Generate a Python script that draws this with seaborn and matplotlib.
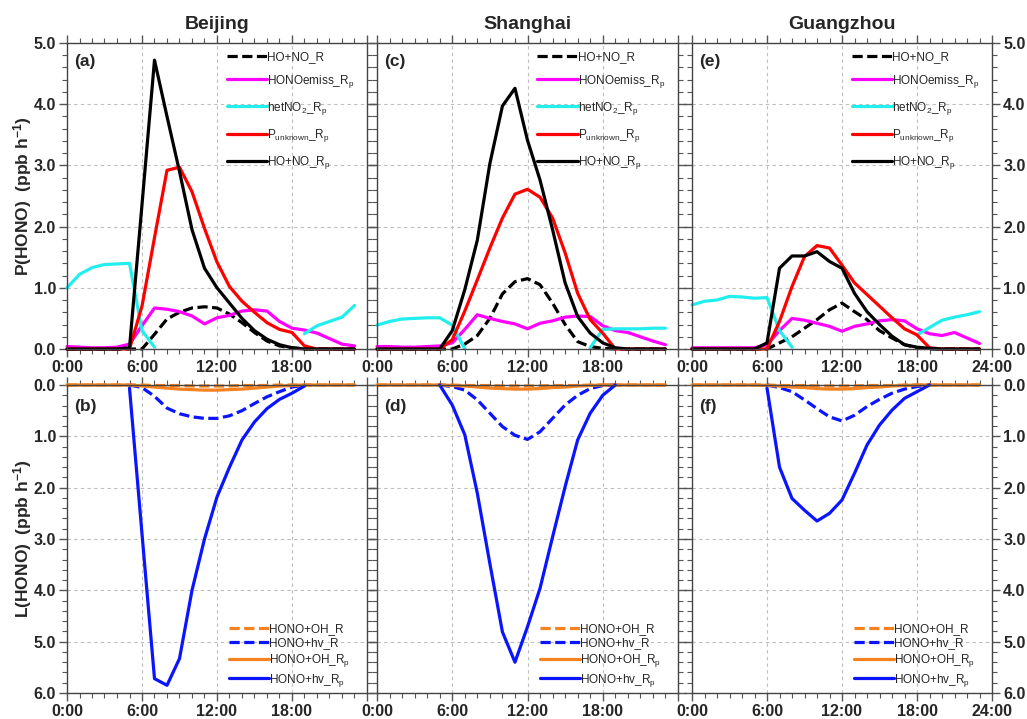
import numpy as np
import pandas as pd
import matplotlib
matplotlib.use("Agg")
import matplotlib.pyplot as plt
import seaborn as sns

nan = np.nan

# ─────────────────────────────────────────────
# DATOS (hora 0..23)
# ─────────────────────────────────────────────
HORAS = list(range(24))
CIUDADES = ["Beijing", "Shanghai", "Guangzhou"]
LETRAS_SUP = ["(a)", "(c)", "(e)"]
LETRAS_INF = ["(b)", "(d)", "(f)"]

ETIQ_SUP = ["HO+NO_R", "HONOemiss_R$_p$", "hetNO$_2$_R$_p$",
            "P$_{unknown}$_R$_p$", "HO+NO_R$_p$"]
ETIQ_INF = ["HONO+OH_R", "HONO+hv_R", "HONO+OH_R$_p$", "HONO+hv_R$_p$"]

# --- Beijing ---
bj_ohno_R   = [0, 0, 0, 0, 0, 0, 0, 0.24, 0.49, 0.60, 0.67, 0.69, 0.67, 0.57,
               0.43, 0.27, 0.13, 0.05, 0.02, 0, 0, 0, 0, 0]
bj_emiss    = [0.04, 0.03, 0.02, 0.02, 0.03, 0.08, 0.38, 0.67, 0.65, 0.61, 0.54,
               0.41, 0.51, 0.55, 0.62, 0.64, 0.62, 0.45, 0.34, 0.31, 0.26, 0.17,
               0.08, 0.05]
bj_het      = [1.00, 1.22, 1.33, 1.38, 1.39, 1.40, 0.30, 0.03, nan, nan, nan,
               nan, nan, nan, nan, nan, nan, nan, nan, 0.25, 0.38, 0.45, 0.52,
               0.71]
bj_unknown  = [0, 0, 0, 0, 0, 0, 0.70, 1.82, 2.92, 2.97, 2.57, 1.97, 1.42, 1.02,
               0.78, 0.60, 0.43, 0.32, 0.27, 0.05, 0, 0, 0, 0]
bj_ohno_Rp  = [0, 0, 0, 0, 0, 0.02, 2.36, 4.72, 3.80, 2.90, 1.95, 1.32, 1.00,
               0.75, 0.50, 0.30, 0.16, 0.07, 0.02, 0, 0, 0, 0, 0]

bj_oh_R     = [0, 0, 0, 0, 0, 0, 0, 0.01, 0.01, 0.01, 0.02, 0.02, 0.02, 0.02,
               0.01, 0.01, 0.01, 0, 0, 0, 0, 0, 0, 0]
bj_hv_R     = [nan, nan, nan, nan, nan, 0, 0.05, 0.22, 0.45, 0.56, 0.62, 0.65,
               0.65, 0.60, 0.50, 0.36, 0.23, 0.13, 0.04, 0, nan, nan, nan, nan]
bj_oh_Rp    = [0, 0, 0, 0, 0, 0, 0.02, 0.04, 0.06, 0.08, 0.09, 0.10, 0.10, 0.09,
               0.08, 0.06, 0.04, 0.02, 0.01, 0, 0, 0, 0, 0]
bj_hv_Rp    = [nan, nan, nan, nan, nan, 0.06, 2.90, 5.72, 5.85, 5.33, 4.00, 3.00,
               2.18, 1.60, 1.07, 0.72, 0.46, 0.28, 0.16, 0.02, nan, nan, nan, nan]

# --- Shanghai ---
sh_ohno_R   = [0, 0, 0, 0, 0, 0, 0, 0.08, 0.22, 0.50, 0.90, 1.10, 1.15, 1.05,
               0.75, 0.40, 0.12, 0.04, 0.01, 0, 0, 0, 0, 0]
sh_emiss    = [0.04, 0.04, 0.03, 0.03, 0.04, 0.05, 0.10, 0.32, 0.56, 0.50, 0.45,
               0.41, 0.33, 0.42, 0.46, 0.52, 0.54, 0.53, 0.38, 0.30, 0.27, 0.20,
               0.13, 0.07]
sh_het      = [0.39, 0.45, 0.49, 0.50, 0.51, 0.51, 0.39, 0.0, nan, nan, nan,
               nan, nan, nan, nan, nan, nan, 0.02, 0.32, 0.33, 0.33, 0.33, 0.34,
               0.34]
sh_unknown  = [0, 0, 0, 0, 0, 0, 0.15, 0.62, 1.13, 1.65, 2.14, 2.53, 2.61, 2.48,
               2.14, 1.57, 0.91, 0.48, 0.26, 0, 0, 0, 0, 0]
sh_ohno_Rp  = [0, 0, 0, 0, 0, 0, 0.30, 0.97, 1.78, 3.03, 3.97, 4.26, 3.41, 2.76,
               1.95, 1.08, 0.53, 0.26, 0.10, 0.02, 0, 0, 0, 0]

sh_oh_R     = [0, 0, 0, 0, 0, 0, 0, 0.01, 0.01, 0.01, 0.02, 0.02, 0.02, 0.02,
               0.01, 0.01, 0.01, 0, 0, 0, 0, 0, 0, 0]
sh_hv_R     = [nan, nan, nan, nan, nan, 0, 0.03, 0.10, 0.29, 0.55, 0.81, 0.98,
               1.06, 0.91, 0.65, 0.39, 0.20, 0.07, 0.01, 0, nan, nan, nan, nan]
sh_oh_Rp    = [0, 0, 0, 0, 0, 0, 0.01, 0.02, 0.04, 0.06, 0.07, 0.08, 0.08, 0.07,
               0.05, 0.04, 0.02, 0.01, 0, 0, 0, 0, 0, 0]
sh_hv_Rp    = [nan, nan, nan, nan, nan, 0, 0.39, 0.97, 2.11, 3.48, 4.81, 5.40,
               4.71, 3.96, 2.96, 1.98, 1.07, 0.55, 0.20, 0, nan, nan, nan, nan]

# --- Guangzhou ---
gz_ohno_R   = [0, 0, 0, 0, 0, 0, 0, 0.10, 0.20, 0.34, 0.48, 0.64, 0.75, 0.61,
               0.48, 0.30, 0.18, 0.07, 0.02, 0, 0, 0, 0, 0]
gz_emiss    = [0.02, 0.02, 0.02, 0.02, 0.02, 0.02, 0.07, 0.30, 0.50, 0.47, 0.42,
               0.37, 0.29, 0.37, 0.41, 0.46, 0.48, 0.46, 0.33, 0.25, 0.22, 0.27,
               0.18, 0.09]
gz_het      = [0.72, 0.78, 0.80, 0.86, 0.85, 0.83, 0.84, 0.30, 0.03, nan, nan,
               nan, nan, nan, nan, nan, nan, nan, 0.23, 0.35, 0.47, 0.52, 0.56,
               0.61]
gz_unknown  = [0, 0, 0, 0, 0, 0, 0, 0.45, 1.02, 1.51, 1.69, 1.65, 1.37, 1.08,
               0.89, 0.70, 0.51, 0.33, 0.23, 0.02, 0, 0, 0, 0]
gz_ohno_Rp  = [0, 0, 0, 0, 0, 0, 0.10, 1.32, 1.52, 1.52, 1.59, 1.43, 1.32, 0.91,
               0.61, 0.40, 0.21, 0.07, 0.03, 0.01, 0, 0, 0, 0]

gz_oh_R     = [0, 0, 0, 0, 0, 0, 0, 0.01, 0.01, 0.01, 0.02, 0.02, 0.02, 0.02,
               0.01, 0.01, 0.01, 0, 0, 0, 0, 0, 0, 0]
gz_hv_R     = [nan, nan, nan, nan, nan, nan, 0, 0.05, 0.13, 0.29, 0.46, 0.62,
               0.70, 0.59, 0.42, 0.28, 0.16, 0.08, 0.03, 0, nan, nan, nan, nan]
gz_oh_Rp    = [0, 0, 0, 0, 0, 0, 0.01, 0.02, 0.04, 0.05, 0.07, 0.08, 0.08, 0.07,
               0.05, 0.04, 0.02, 0.01, 0, 0, 0, 0, 0, 0]
gz_hv_Rp    = [nan, nan, nan, nan, nan, nan, 0.06, 1.60, 2.21, 2.44, 2.65, 2.50,
               2.24, 1.72, 1.17, 0.78, 0.49, 0.26, 0.13, 0, nan, nan, nan, nan]

SUP = [[bj_ohno_R, bj_emiss, bj_het, bj_unknown, bj_ohno_Rp],
       [sh_ohno_R, sh_emiss, sh_het, sh_unknown, sh_ohno_Rp],
       [gz_ohno_R, gz_emiss, gz_het, gz_unknown, gz_ohno_Rp]]
INF = [[bj_oh_R, bj_hv_R, bj_oh_Rp, bj_hv_Rp],
       [sh_oh_R, sh_hv_R, sh_oh_Rp, sh_hv_Rp],
       [gz_oh_R, gz_hv_R, gz_oh_Rp, gz_hv_Rp]]

# ─────────────────────────────────────────────
# ESTILO
# ─────────────────────────────────────────────
COL_SUP = ["black", "#ff00ff", "#22eeee", "#ff0000", "black"]
LS_SUP = [(0, (3.2, 1.4)), "-", "-", "-", "-"]
COL_INF = ["#f5821f", "#0a14ff", "#f5821f", "#0a14ff"]
LS_INF = [(0, (3.2, 1.4)), (0, (3.2, 1.4)), "-", "-"]
LW = 2.3

sns.set_theme(style="ticks")
plt.rcParams["font.family"] = ["Liberation Sans", "DejaVu Sans"]
plt.rcParams["mathtext.default"] = "regular"
plt.rcParams["axes.edgecolor"] = "#444444"
plt.rcParams["axes.linewidth"] = 1.0


def tramos(y):
    """Divide la serie en tramos contiguos sin NaN."""
    y = np.asarray(y, dtype=float)
    ok = ~np.isnan(y)
    out, ini = [], None
    for i, v in enumerate(ok):
        if v and ini is None:
            ini = i
        if not v and ini is not None:
            out.append((ini, i))
            ini = None
    if ini is not None:
        out.append((ini, len(y)))
    return out


def dibujar(ax, series, etiquetas, colores, estilos):
    x = np.array(HORAS)
    for y, lab, c, ls in zip(series, etiquetas, colores, estilos):
        y = np.asarray(y, dtype=float)
        for k, (a, b) in enumerate(tramos(y)):
            df = pd.DataFrame({"h": x[a:b], "v": y[a:b]})
            sns.lineplot(data=df, x="h", y="v", ax=ax, color=c, linestyle=ls,
                         linewidth=LW, label=lab if k == 0 else "_nolegend_",
                         clip_on=False, legend=False)


def formato(ax, ymax, col, invertir=False):
    ax.set_xlim(0, 24)
    ax.set_ylim(0, ymax)
    if invertir:
        ax.invert_yaxis()
    ax.set_xticks([0, 6, 12, 18, 24])
    ax.set_xticks(range(25), minor=True)
    ax.set_yticks(np.arange(0, ymax + 0.01, 1.0))
    ax.set_yticks(np.arange(0, ymax + 0.01, 0.2), minor=True)
    etq_x = ["0:00", "6:00", "12:00", "18:00", "24:00" if col == 2 else ""]
    ax.set_xticklabels(etq_x)
    ax.set_yticklabels([f"{v:.1f}" for v in np.arange(0, ymax + 0.01, 1.0)])
    ax.tick_params(which="both", direction="out", top=True, right=True,
                   color="#555555", labelsize=11.5, pad=2)
    ax.tick_params(which="major", length=6, width=1.0)
    ax.tick_params(which="minor", length=3.5, width=0.8)
    ax.tick_params(axis="y", labelleft=(col == 0), labelright=(col == 2))
    for t in ax.get_xticklabels() + ax.get_yticklabels():
        t.set_fontweight("bold")
    ax.grid(True, which="major", color="#bdbdbd", linestyle=(0, (3, 3)),
            linewidth=0.8)
    ax.set_xlabel("")
    ax.set_ylabel("")


fig = plt.figure(figsize=(10.27, 7.19), dpi=100)
IZQ = [67, 377, 692]
ANCHO = [300, 301, 300]

for j in range(3):
    l = IZQ[j] / 1027
    w = ANCHO[j] / 1027
    ax_s = fig.add_axes([l, (719 - 349) / 719, w, 306 / 719])
    ax_i = fig.add_axes([l, (719 - 693) / 719, w, 308 / 719])

    dibujar(ax_s, SUP[j], ETIQ_SUP, COL_SUP, LS_SUP)
    dibujar(ax_i, INF[j], ETIQ_INF, COL_INF, LS_INF)
    formato(ax_s, 5.0, j)
    formato(ax_i, 6.0, j, invertir=True)

    ax_s.set_title(CIUDADES[j], fontsize=14, fontweight="bold", pad=10)
    ax_s.text(0.025, 0.965, LETRAS_SUP[j], transform=ax_s.transAxes,
              fontsize=12.5, fontweight="bold", va="top", ha="left")
    ax_i.text(0.025, 0.955, LETRAS_INF[j], transform=ax_i.transAxes,
              fontsize=12.5, fontweight="bold", va="top", ha="left")

    ax_s.legend(loc="upper left", bbox_to_anchor=(0.533, 0.975), frameon=False,
                fontsize=8.5, handlelength=3.4, handletextpad=0.0,
                labelspacing=0.85, borderpad=0, borderaxespad=0)
    ax_i.legend(loc="upper left", bbox_to_anchor=(0.54, 0.228), frameon=False,
                fontsize=8.5, handlelength=3.4, handletextpad=0.0,
                labelspacing=0.22, borderpad=0, borderaxespad=0)

    if j == 0:
        ax_s.set_ylabel("P(HONO)  (ppb h$^{-1}$)", fontsize=12.5,
                        fontweight="bold", labelpad=0)
        ax_i.set_ylabel("L(HONO)  (ppb h$^{-1}$)", fontsize=12.5,
                        fontweight="bold", labelpad=0)

fig.savefig("out.png", dpi=100)
